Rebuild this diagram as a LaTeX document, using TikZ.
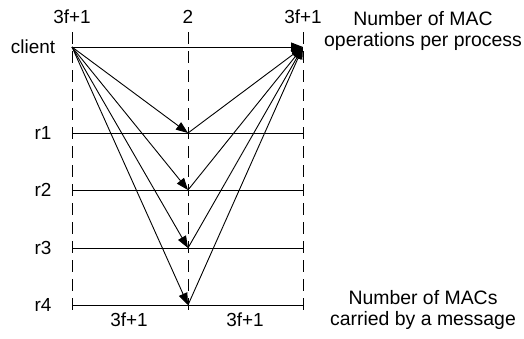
\documentclass[tikz,border=0pt]{standalone}
\usepackage{fontspec}
\setmainfont{Liberation Sans}
\usetikzlibrary{arrows.meta}
\tikzset{
  lane/.style={line width=0.9bp},
  guide/.style={line width=0.9bp, dash pattern=on 12bp off 7bp},
  msg/.style={-{Triangle[length=12bp,width=9bp]}, line width=0.9bp},
  lbl/.style={anchor=base, inner sep=0pt, font=\fontsize{19}{21}\selectfont},
  note/.style={anchor=base, inner sep=0pt, align=center, font=\fontsize{19.5}{21}\selectfont}
}

\begin{document}
\begin{tikzpicture}[x=1bp, y=-1bp]
  \useasboundingbox (0,0) rectangle (524,338);

  % Draw points of the three columns on each row
  \coordinate (c0) at (72,47);
  \coordinate (c2) at (303,47);
  \foreach \i/\y in {1/133,2/190,3/248,4/305} {
    \coordinate (l\i) at (72,\y);
    \coordinate (m\i) at (188,\y);
    \coordinate (r\i) at (303,\y);
  }

  % Draw dashed guides
  \foreach \x/\n in {72/a,188/b,303/c} {
    \coordinate (top\n) at (\x,32);
    \coordinate (bot\n) at (\x,317);
    \draw[guide] (top\n) -- (bot\n);
  }

  % Draw rows
  \draw[msg] (c0) -- (c2);
  \foreach \i in {1,...,4}
    \draw[lane] (l\i) -- (r\i);

  % Draw messages
  \foreach \i in {1,...,4} {
    \draw[msg] (c0) -- (m\i);
    \draw[msg] (m\i) -- (c2);
  }

  % Draw labels
  \node[lbl] (ha) at (72,23) {3f+1};
  \node[lbl] (hb) at (188,23) {2};
  \node[lbl] (hc) at (303,23) {3f+1};
  \node[lbl] (client) at (33,53) {client};
  \foreach \i/\y in {1/133,2/190,3/248,4/305}
    \node[lbl] (rl\i) at (43,\y+6.5) {r\i};
  \node[lbl] (fa) at (129,326) {3f+1};
  \node[lbl] (fb) at (245,326) {3f+1};
  \node[note] (ops) at (423,46) {Number of MAC\\operations per process};
  \node[note] (macs) at (423,325) {Number of MACs\\carried by a message};
\end{tikzpicture}
\end{document}
